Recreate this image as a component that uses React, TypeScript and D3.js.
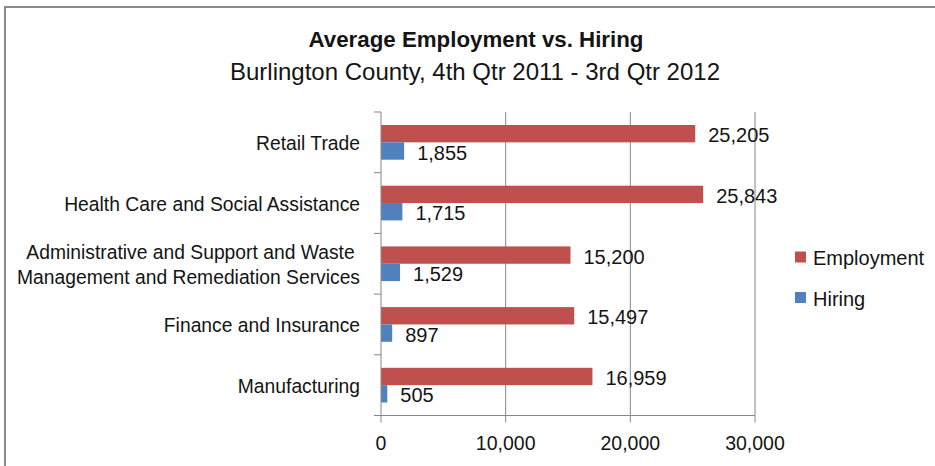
import React from "react";
import * as d3 from "d3";

const categories = [
  "Retail Trade",
  "Health Care and Social Assistance",
  "Administrative and Support and Waste Management and Remediation Services",
  "Finance and Insurance",
  "Manufacturing",
];
const categoryLines = [
  ["Retail Trade"],
  ["Health Care and Social Assistance"],
  ["Administrative and Support and Waste ", "Management and Remediation Services"],
  ["Finance and Insurance"],
  ["Manufacturing"],
];
const seriesNames = ["Employment", "Hiring"];
const employment = [25205, 25843, 15200, 15497, 16959];
const hiring = [1855, 1715, 1529, 897, 505];
const xTicks = [0, 10000, 20000, 30000];
const colors = ["#C0504D", "#4F81BD"];

const W = 935;
const H = 466;
const FONT = "'Liberation Sans', Arial, sans-serif";
const TEXT = "#141414";
const GRID = "#868686";

export default function App() {
  const x = d3.scaleLinear().domain([0, 30000]).range([381, 755]);
  const y0 = d3.scaleBand().domain(categories).range([112, 415.5]).padding(0);
  const y1 = d3
    .scaleBand()
    .domain(seriesNames)
    .range([0, y0.bandwidth()])
    .paddingInner(0)
    .paddingOuter(0.75);
  const fmt = d3.format(",");
  const values = [employment, hiring];
  const [yTop, yBot] = y0.range();

  return (
    <svg
      width={W}
      height={H}
      style={{ position: "absolute", left: 0, top: 0, background: "#fff" }}
      fontFamily={FONT}
    >
      {/* chart border (only top and left edges show) */}
      <line x1={5} x2={W} y1={7} y2={7} stroke="#8a8a8a" strokeWidth={2} />
      <line x1={5} x2={5} y1={6} y2={H} stroke="#8a8a8a" strokeWidth={2} />

      <text x={476} y={47} textAnchor="middle" fontSize={22.3} fontWeight="bold" fill={TEXT}>
        Average Employment vs. Hiring
      </text>
      <text x={475} y={80} textAnchor="middle" fontSize={24} fill={TEXT}>
        Burlington County, 4th Qtr 2011 - 3rd Qtr 2012
      </text>

      {/* gridlines */}
      {xTicks.slice(1).map((t) => (
        <line key={t} x1={x(t)} x2={x(t)} y1={yTop} y2={yBot} stroke={GRID} strokeWidth={1} />
      ))}

      {/* bars */}
      {categories.map((c, i) =>
        seriesNames.map((s, j) => {
          const v = values[j][i];
          const by = (y0(c) as number) + (y1(s) as number);
          return (
            <g key={c + s}>
              <rect
                x={x(0)}
                y={by}
                width={x(v) - x(0)}
                height={y1.bandwidth()}
                fill={colors[j]}
              />
              <text
                x={x(v) + 13}
                y={by + y1.bandwidth() / 2 + 1.5}
                dominantBaseline="central"
                fontSize={20}
                fill={TEXT}
              >
                {fmt(v)}
              </text>
            </g>
          );
        })
      )}

      {/* axes */}
      <line x1={x(0)} x2={x(0)} y1={yTop} y2={yBot} stroke={GRID} strokeWidth={1} />
      <line x1={x(0) - 7} x2={x(30000)} y1={yBot} y2={yBot} stroke={GRID} strokeWidth={1} />
      {categories.map((c) => (
        <line
          key={c}
          x1={x(0) - 7}
          x2={x(0)}
          y1={y0(c) as number}
          y2={y0(c) as number}
          stroke={GRID}
          strokeWidth={1}
        />
      ))}
      {xTicks.map((t) => (
        <g key={t}>
          <line x1={x(t)} x2={x(t)} y1={yBot} y2={yBot + 7} stroke={GRID} strokeWidth={1} />
          <text
            x={x(t)}
            y={443}
            textAnchor="middle"
            dominantBaseline="central"
            fontSize={19.5}
            fill={TEXT}
          >
            {fmt(t)}
          </text>
        </g>
      ))}

      {/* category labels */}
      {categories.map((c, i) => {
        const lines = categoryLines[i];
        const cy = (y0(c) as number) + y0.bandwidth() / 2 + 1;
        const lh = 25;
        return (
          <text
            key={c}
            textAnchor="end"
            fontSize={19.3}
            fill={TEXT}
            style={{ whiteSpace: "pre" }}
          >
            {lines.map((ln, k) => (
              <tspan
                key={k}
                x={360}
                y={cy + (k - (lines.length - 1) / 2) * lh}
                dominantBaseline="central"
              >
                {ln}
              </tspan>
            ))}
          </text>
        );
      })}

      {/* legend */}
      {seriesNames.map((s, j) => {
        const cy = 257 + j * 40.5;
        return (
          <g key={s}>
            <rect x={795} y={cy - 5.5} width={11} height={11} fill={colors[j]} />
            <text x={813} y={cy + 1} dominantBaseline="central" fontSize={20} fill={TEXT}>
              {s}
            </text>
          </g>
        );
      })}
    </svg>
  );
}
